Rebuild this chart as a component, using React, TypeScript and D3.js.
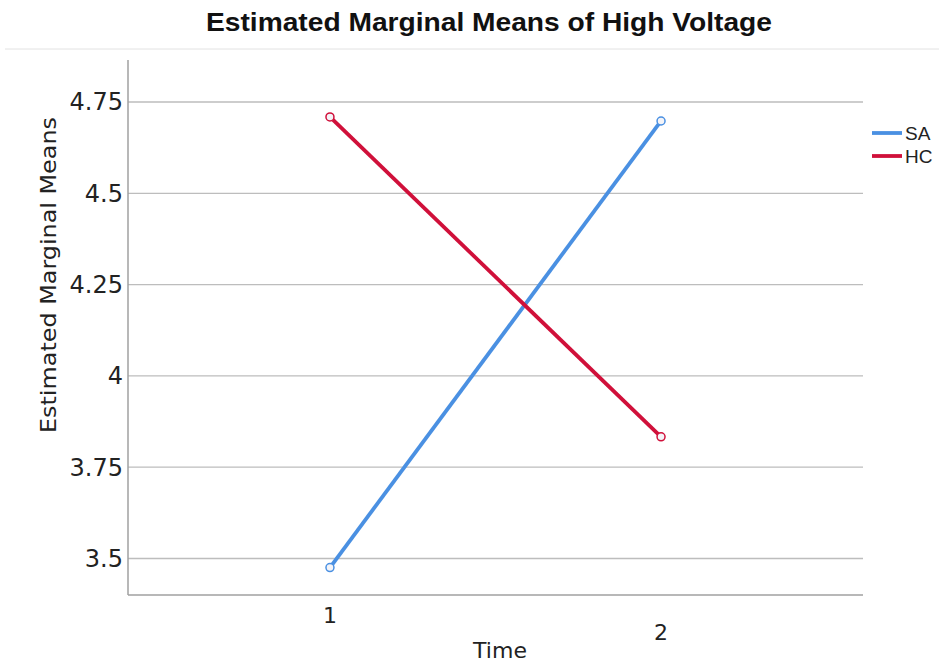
import React from "react";
import * as d3 from "d3";

const times = ["1", "2"];
const saMeans = [3.475, 4.698];
const hcMeans = [4.709, 3.833];
const yTicks = [3.5, 3.75, 4, 4.25, 4.5, 4.75];
const seriesNames = ["SA", "HC"];
const seriesColors = ["#4A90E2", "#D0103A"];

const W = 939;
const H = 665;
const plot = { left: 128, right: 863, top: 60, bottom: 595 };

export default function App() {
  const x = d3
    .scalePoint<string>()
    .domain(times)
    .range([plot.left, plot.right])
    .padding(0.61);
  const y = d3.scaleLinear().domain([3.4, 4.865]).range([plot.bottom, plot.top]);

  const series = [saMeans, hcMeans];
  const line = d3
    .line<number>()
    .x((_, i) => x(times[i]) as number)
    .y((d) => y(d));

  const tickFont = "'DejaVu Sans', Verdana, sans-serif";

  return (
    <svg
      width={W}
      height={H}
      style={{ position: "absolute", left: 0, top: 0, background: "#fff" }}
    >
      <text
        x={489}
        y={31}
        textAnchor="middle"
        fontFamily="'Liberation Sans', Arial, sans-serif"
        fontWeight="bold"
        fontSize={25}
        textLength={566}
        lengthAdjust="spacingAndGlyphs"
        fill="#111"
      >
        Estimated Marginal Means of High Voltage
      </text>
      <line x1={5} x2={939} y1={49} y2={49} stroke="#e2e2e2" strokeWidth={1} />

      {yTicks.map((t) => (
        <g key={t}>
          <line
            x1={plot.left}
            x2={plot.right}
            y1={y(t)}
            y2={y(t)}
            stroke="#bdbdbd"
            strokeWidth={1.3}
          />
          <text
            x={123}
            y={y(t) + 8.5}
            textAnchor="end"
            fontFamily={tickFont}
            fontSize={24}
            fill="#222"
          >
            {String(t)}
          </text>
        </g>
      ))}

      <line x1={plot.left} x2={plot.left} y1={plot.top} y2={plot.bottom} stroke="#a0a0a0" strokeWidth={1.5} />
      <line x1={plot.left} x2={plot.right} y1={plot.bottom} y2={plot.bottom} stroke="#a0a0a0" strokeWidth={1.5} />

      {times.map((t, i) => (
        <text
          key={t}
          x={x(t) as number}
          y={i === 0 ? 623 : 640}
          textAnchor="middle"
          fontFamily={tickFont}
          fontSize={22}
          fill="#222"
        >
          {t}
        </text>
      ))}

      <text
        x={500}
        y={658}
        textAnchor="middle"
        fontFamily={tickFont}
        fontSize={22}
        fill="#222"
      >
        Time
      </text>
      <text
        transform={`translate(56, 275) rotate(-90)`}
        textAnchor="middle"
        fontFamily={tickFont}
        fontSize={22}
        textLength={316}
        lengthAdjust="spacingAndGlyphs"
        fill="#222"
      >
        Estimated Marginal Means
      </text>

      {series.map((vals, si) => (
        <g key={seriesNames[si]}>
          <path d={line(vals) || ""} fill="none" stroke={seriesColors[si]} strokeWidth={3.8} />
          {vals.map((v, i) => (
            <circle
              key={i}
              cx={x(times[i]) as number}
              cy={y(v)}
              r={4}
              fill="#f4f4f8"
              stroke={seriesColors[si]}
              strokeWidth={1.5}
            />
          ))}
        </g>
      ))}

      {seriesNames.map((n, i) => (
        <g key={n} transform={`translate(872, ${133 + i * 23})`}>
          <line x1={0} x2={30} y1={0} y2={0} stroke={seriesColors[i]} strokeWidth={3.8} />
          <text
            x={33}
            y={7}
            fontFamily="'Liberation Sans', Arial, sans-serif"
            fontSize={19}
            fill="#222"
          >
            {n}
          </text>
        </g>
      ))}
    </svg>
  );
}
